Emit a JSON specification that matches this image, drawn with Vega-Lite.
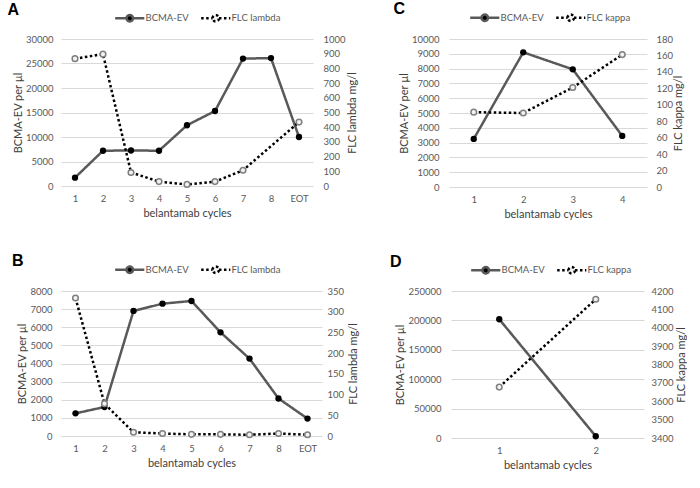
{
  "$schema": "https://vega.github.io/schema/vega-lite/v6.json",
  "background": "white",
  "padding": {"left": 7, "top": 1, "right": 0, "bottom": 0},
  "spacing": 33,
  "config": {
    "font": "Lato",
    "view": {"stroke": null},
    "axis": {
      "domain": false,
      "ticks": false,
      "labelColor": "#595959",
      "labelFontSize": 9.5,
      "titleColor": "#404040",
      "titleFontSize": 11,
      "titleFontWeight": "normal",
      "gridColor": "#d9d9d9",
      "gridWidth": 1
    },
    "axisX": {"labelAngle": 0, "labelPadding": 7, "titlePadding": 5, "grid": false},
    "axisRight": {"titleAngle": 270, "titleBaseline": "top"},
    "legend": {
      "orient": "none",
      "direction": "horizontal",
      "title": null,
      "labelFontSize": 9.5,
      "labelColor": "#595959",
      "labelOffset": 11,
      "columnPadding": 7,
      "symbolType": "M-5,0H-1.1M1.1,0H5M-1.1,0A1.1,1.1,0,1,1,1.1,0A1.1,1.1,0,1,1,-1.1,0Z",
      "symbolSize": 34,
      "symbolStrokeWidth": 2.5
    },
    "title": {"anchor": "start", "frame": "bounds", "font": "Liberation Sans", "fontSize": 16, "fontWeight": "bold", "color": "#000000", "dx": -5, "offset": -4}
  },
  "resolve": {"scale": {"color": "independent", "strokeDash": "independent"}, "legend": {"color": "independent", "strokeDash": "independent"}},
  "vconcat": [
    {
      "spacing": 35,
      "resolve": {"scale": {"color": "independent", "strokeDash": "independent"}, "legend": {"color": "independent", "strokeDash": "independent"}},
      "hconcat": [
        {
          "title": "A",
          "width": 252,
          "height": 147,
          "data": {"values": [
            {"cycle": "1", "series": "BCMA-EV", "value": 1700},
            {"cycle": "2", "series": "BCMA-EV", "value": 7200},
            {"cycle": "3", "series": "BCMA-EV", "value": 7250},
            {"cycle": "4", "series": "BCMA-EV", "value": 7200},
            {"cycle": "5", "series": "BCMA-EV", "value": 12400},
            {"cycle": "6", "series": "BCMA-EV", "value": 15300},
            {"cycle": "7", "series": "BCMA-EV", "value": 26000},
            {"cycle": "8", "series": "BCMA-EV", "value": 26100},
            {"cycle": "EOT", "series": "BCMA-EV", "value": 10000},
            {"cycle": "1", "series": "FLC lambda", "value": 866},
            {"cycle": "2", "series": "FLC lambda", "value": 897},
            {"cycle": "3", "series": "FLC lambda", "value": 92},
            {"cycle": "4", "series": "FLC lambda", "value": 30},
            {"cycle": "5", "series": "FLC lambda", "value": 11},
            {"cycle": "6", "series": "FLC lambda", "value": 30},
            {"cycle": "7", "series": "FLC lambda", "value": 107},
            {"cycle": "EOT", "series": "FLC lambda", "value": 435}
          ]},
          "encoding": {
            "x": {"field": "cycle", "type": "ordinal", "scale": {"type": "point", "padding": 0.5, "domain": ["1", "2", "3", "4", "5", "6", "7", "8", "EOT"]}, "title": "belantamab cycles"}
          },
          "layer": [
            {
              "transform": [{"filter": "datum.series === 'BCMA-EV'"}],
              "encoding": {
                "y": {"field": "value", "type": "quantitative", "scale": {"domain": [0, 30000]}, "title": "BCMA-EV per µl",
                  "axis": {"values": [0, 5000, 10000, 15000, 20000, 25000, 30000], "format": "d", "grid": true, "labelPadding": 8, "titlePadding": 2}}
              },
              "layer": [
                {"mark": {"type": "line", "strokeWidth": 2.5},
                 "encoding": {
                   "color": {"field": "series", "type": "nominal", "scale": {"domain": ["BCMA-EV", "FLC lambda"], "range": ["#595959", "#000000"]},
                     "legend": {"legendX": 64, "legendY": -25.5, "encode": {"symbols": {"update": {"fill": [{"test": "datum.value === 'BCMA-EV'", "value": "#000000"}, {"value": "#f2f2f2"}]}}}}},
                   "strokeDash": {"field": "series", "type": "nominal", "scale": {"domain": ["BCMA-EV", "FLC lambda"], "range": [[1, 0], [2.5, 2.5]]}}
                 }},
                {"mark": {"type": "point", "filled": true, "color": "#000000", "size": 40, "opacity": 1}}
              ]
            },
            {
              "transform": [{"filter": "datum.series !== 'BCMA-EV'"}],
              "encoding": {
                "y": {"field": "value", "type": "quantitative", "scale": {"domain": [0, 1000]}, "title": "FLC lambda mg/l",
                  "axis": {"orient": "right", "values": [0, 100, 200, 300, 400, 500, 600, 700, 800, 900, 1000], "format": "d", "grid": false, "labelPadding": 10, "titlePadding": 1}}
              },
              "layer": [
                {"mark": {"type": "line", "strokeWidth": 2.5},
                 "encoding": {
                   "color": {"field": "series", "type": "nominal"},
                   "strokeDash": {"field": "series", "type": "nominal"}
                 }},
                {"mark": {"type": "point", "filled": true, "fill": "#f2f2f2", "stroke": "#7f7f7f", "strokeWidth": 1.5, "size": 32, "opacity": 1}}
              ]
            }
          ],
          "resolve": {"scale": {"y": "independent"}}
        },
        {
          "title": "C",
          "width": 198,
          "height": 148,
          "data": {"values": [
            {"cycle": "1", "series": "BCMA-EV", "value": 3250},
            {"cycle": "2", "series": "BCMA-EV", "value": 9100},
            {"cycle": "3", "series": "BCMA-EV", "value": 7950},
            {"cycle": "4", "series": "BCMA-EV", "value": 3450},
            {"cycle": "1", "series": "FLC kappa", "value": 91},
            {"cycle": "2", "series": "FLC kappa", "value": 90},
            {"cycle": "3", "series": "FLC kappa", "value": 121},
            {"cycle": "4", "series": "FLC kappa", "value": 161}
          ]},
          "encoding": {
            "x": {"field": "cycle", "type": "ordinal", "scale": {"type": "point", "padding": 0.5, "domain": ["1", "2", "3", "4"]}, "title": "belantamab cycles"}
          },
          "layer": [
            {
              "transform": [{"filter": "datum.series === 'BCMA-EV'"}],
              "encoding": {
                "y": {"field": "value", "type": "quantitative", "scale": {"domain": [0, 10000]}, "title": "BCMA-EV per µl",
                  "axis": {"values": [0, 1000, 2000, 3000, 4000, 5000, 6000, 7000, 8000, 9000, 10000], "format": "d", "grid": true, "labelPadding": 10, "titlePadding": 2}}
              },
              "layer": [
                {"mark": {"type": "line", "strokeWidth": 2.5},
                 "encoding": {
                   "color": {"field": "series", "type": "nominal", "scale": {"domain": ["BCMA-EV", "FLC kappa"], "range": ["#595959", "#000000"]},
                     "legend": {"legendX": 31, "legendY": -26, "encode": {"symbols": {"update": {"fill": [{"test": "datum.value === 'BCMA-EV'", "value": "#000000"}, {"value": "#f2f2f2"}]}}}}},
                   "strokeDash": {"field": "series", "type": "nominal", "scale": {"domain": ["BCMA-EV", "FLC kappa"], "range": [[1, 0], [2.5, 2.5]]}}
                 }},
                {"mark": {"type": "point", "filled": true, "color": "#000000", "size": 40, "opacity": 1}}
              ]
            },
            {
              "transform": [{"filter": "datum.series !== 'BCMA-EV'"}],
              "encoding": {
                "y": {"field": "value", "type": "quantitative", "scale": {"domain": [0, 180]}, "title": "FLC kappa mg/l",
                  "axis": {"orient": "right", "values": [0, 20, 40, 60, 80, 100, 120, 140, 160, 180], "format": "d", "grid": false, "labelPadding": 9, "titlePadding": 0}}
              },
              "layer": [
                {"mark": {"type": "line", "strokeWidth": 2.5},
                 "encoding": {
                   "color": {"field": "series", "type": "nominal"},
                   "strokeDash": {"field": "series", "type": "nominal"}
                 }},
                {"mark": {"type": "point", "filled": true, "fill": "#f2f2f2", "stroke": "#7f7f7f", "strokeWidth": 1.5, "size": 32, "opacity": 1}}
              ]
            }
          ],
          "resolve": {"scale": {"y": "independent"}}
        }
      ]
    },
    {
      "spacing": 30,
      "resolve": {"scale": {"color": "independent", "strokeDash": "independent"}, "legend": {"color": "independent", "strokeDash": "independent"}},
      "hconcat": [
        {
          "title": "B",
          "width": 261,
          "height": 145,
          "data": {"values": [
            {"cycle": "1", "series": "BCMA-EV", "value": 1250},
            {"cycle": "2", "series": "BCMA-EV", "value": 1600},
            {"cycle": "3", "series": "BCMA-EV", "value": 6900},
            {"cycle": "4", "series": "BCMA-EV", "value": 7300},
            {"cycle": "5", "series": "BCMA-EV", "value": 7450},
            {"cycle": "6", "series": "BCMA-EV", "value": 5720},
            {"cycle": "7", "series": "BCMA-EV", "value": 4270},
            {"cycle": "8", "series": "BCMA-EV", "value": 2070},
            {"cycle": "EOT", "series": "BCMA-EV", "value": 960},
            {"cycle": "1", "series": "FLC lambda", "value": 333},
            {"cycle": "2", "series": "FLC lambda", "value": 78},
            {"cycle": "3", "series": "FLC lambda", "value": 9},
            {"cycle": "4", "series": "FLC lambda", "value": 6},
            {"cycle": "5", "series": "FLC lambda", "value": 4},
            {"cycle": "6", "series": "FLC lambda", "value": 4},
            {"cycle": "7", "series": "FLC lambda", "value": 3},
            {"cycle": "8", "series": "FLC lambda", "value": 6},
            {"cycle": "EOT", "series": "FLC lambda", "value": 3}
          ]},
          "encoding": {
            "x": {"field": "cycle", "type": "ordinal", "scale": {"type": "point", "padding": 0.5, "domain": ["1", "2", "3", "4", "5", "6", "7", "8", "EOT"]}, "title": "belantamab cycles"}
          },
          "layer": [
            {
              "transform": [{"filter": "datum.series === 'BCMA-EV'"}],
              "encoding": {
                "y": {"field": "value", "type": "quantitative", "scale": {"domain": [0, 8000]}, "title": "BCMA-EV per µl",
                  "axis": {"values": [0, 1000, 2000, 3000, 4000, 5000, 6000, 7000, 8000], "format": "d", "grid": true, "labelPadding": 9, "titlePadding": 2}}
              },
              "layer": [
                {"mark": {"type": "line", "strokeWidth": 2.5},
                 "encoding": {
                   "color": {"field": "series", "type": "nominal", "scale": {"domain": ["BCMA-EV", "FLC lambda"], "range": ["#595959", "#000000"]},
                     "legend": {"legendX": 64, "legendY": -26, "encode": {"symbols": {"update": {"fill": [{"test": "datum.value === 'BCMA-EV'", "value": "#000000"}, {"value": "#f2f2f2"}]}}}}},
                   "strokeDash": {"field": "series", "type": "nominal", "scale": {"domain": ["BCMA-EV", "FLC lambda"], "range": [[1, 0], [2.5, 2.5]]}}
                 }},
                {"mark": {"type": "point", "filled": true, "color": "#000000", "size": 40, "opacity": 1}}
              ]
            },
            {
              "transform": [{"filter": "datum.series !== 'BCMA-EV'"}],
              "encoding": {
                "y": {"field": "value", "type": "quantitative", "scale": {"domain": [0, 350]}, "title": "FLC lambda mg/l",
                  "axis": {"orient": "right", "values": [0, 50, 100, 150, 200, 250, 300, 350], "format": "d", "grid": false, "labelPadding": 5, "titlePadding": 4}}
              },
              "layer": [
                {"mark": {"type": "line", "strokeWidth": 2.5},
                 "encoding": {
                   "color": {"field": "series", "type": "nominal"},
                   "strokeDash": {"field": "series", "type": "nominal"}
                 }},
                {"mark": {"type": "point", "filled": true, "fill": "#f2f2f2", "stroke": "#7f7f7f", "strokeWidth": 1.5, "size": 32, "opacity": 1}}
              ]
            }
          ],
          "resolve": {"scale": {"y": "independent"}}
        },
        {
          "title": "D",
          "width": 193,
          "height": 147,
          "data": {"values": [
            {"cycle": "1", "series": "BCMA-EV", "value": 202000},
            {"cycle": "2", "series": "BCMA-EV", "value": 3000},
            {"cycle": "1", "series": "FLC kappa", "value": 3677},
            {"cycle": "2", "series": "FLC kappa", "value": 4155}
          ]},
          "encoding": {
            "x": {"field": "cycle", "type": "ordinal", "scale": {"type": "point", "padding": 0.5, "domain": ["1", "2"]}, "title": "belantamab cycles"}
          },
          "layer": [
            {
              "transform": [{"filter": "datum.series === 'BCMA-EV'"}],
              "encoding": {
                "y": {"field": "value", "type": "quantitative", "scale": {"domain": [0, 250000]}, "title": "BCMA-EV per µl",
                  "axis": {"values": [0, 50000, 100000, 150000, 200000, 250000], "format": "d", "grid": true, "labelPadding": 10, "titlePadding": 2}}
              },
              "layer": [
                {"mark": {"type": "line", "strokeWidth": 2.5},
                 "encoding": {
                   "color": {"field": "series", "type": "nominal", "scale": {"domain": ["BCMA-EV", "FLC kappa"], "range": ["#595959", "#000000"]},
                     "legend": {"legendX": 30, "legendY": -25.5, "encode": {"symbols": {"update": {"fill": [{"test": "datum.value === 'BCMA-EV'", "value": "#000000"}, {"value": "#f2f2f2"}]}}}}},
                   "strokeDash": {"field": "series", "type": "nominal", "scale": {"domain": ["BCMA-EV", "FLC kappa"], "range": [[1, 0], [2.5, 2.5]]}}
                 }},
                {"mark": {"type": "point", "filled": true, "color": "#000000", "size": 40, "opacity": 1}}
              ]
            },
            {
              "transform": [{"filter": "datum.series !== 'BCMA-EV'"}],
              "encoding": {
                "y": {"field": "value", "type": "quantitative", "scale": {"domain": [3400, 4200]}, "title": "FLC kappa mg/l",
                  "axis": {"orient": "right", "values": [3400, 3500, 3600, 3700, 3800, 3900, 4000, 4100, 4200], "format": "d", "grid": false, "labelPadding": 7, "titlePadding": 2}}
              },
              "layer": [
                {"mark": {"type": "line", "strokeWidth": 2.5},
                 "encoding": {
                   "color": {"field": "series", "type": "nominal"},
                   "strokeDash": {"field": "series", "type": "nominal"}
                 }},
                {"mark": {"type": "point", "filled": true, "fill": "#f2f2f2", "stroke": "#7f7f7f", "strokeWidth": 1.5, "size": 32, "opacity": 1}}
              ]
            }
          ],
          "resolve": {"scale": {"y": "independent"}}
        }
      ]
    }
  ]
}
